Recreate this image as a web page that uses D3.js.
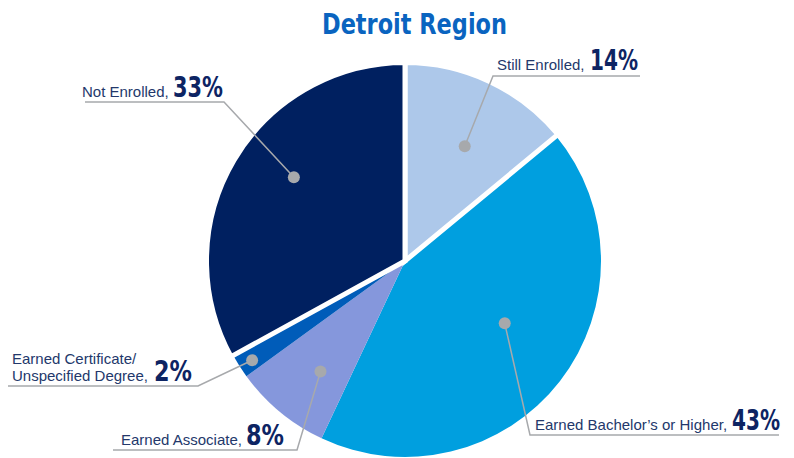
<!DOCTYPE html>
<html>
<head>
<meta charset="utf-8">
<script src="https://cdn.jsdelivr.net/npm/d3@7"></script>
<style>
  body { margin: 0; background: #fff; }
  .lbl { font-family: "Liberation Sans", Arial, sans-serif; font-size: 15px; fill: #23386b; }
  .pct { font-family: "DejaVu Sans Condensed", sans-serif; font-weight: bold; font-size: 28px; fill: #0d2463; }
</style>
</head>
<body>
<div id="chart"></div>
<script>
// data
const categories = ["Still Enrolled", "Earned Bachelor\u2019s or Higher", "Earned Associate", "Earned Certificate/Unspecified Degree", "Not Enrolled"];
const shares = [14, 43, 8, 2, 33];
const colors = ["#adc8ea", "#009fdf", "#8597dc", "#005cb9", "#002060"];

// label layout: dot radius (fraction of r) and angle nudge (deg), text lines, underline
const labelLayout = [
  { f: 0.66, da: 2.3, lines: ["Still Enrolled,"], x: 497, y: 70, pctX: 590, pctW: 48, ux0: 493, ux1: 640, uy: 76, elbowX: 493 },
  { f: 0.60, da: -5.8, lines: ["Earned Bachelor\u2019s or Higher,"], x: 535, y: 430, pctX: 732, pctW: 48, ux0: 530, ux1: 779, uy: 435, elbowX: 530 },
  { f: 0.71, da: -2.2, lines: ["Earned Associate,"], x: 121, y: 445, pctX: 246, pctW: 38, ux0: 113, ux1: 297, uy: 450, elbowX: 297 },
  { f: 0.93, da: -0.6, lines: ["Earned Certificate/", "Unspecified Degree,"], x: 12, y: 364, pctX: 154, pctW: 38, ux0: 8, ux1: 198, uy: 386, elbowX: 198 },
  { f: 0.71, da: 6.4, lines: ["Not Enrolled,"], x: 82, y: 97, pctX: 173, pctW: 50, ux0: 85, ux1: 224, uy: 102, elbowX: 224 }
];
const lineGap = 17;

const width = 794, height = 458;
const cx = 405, cy = 261, radius = 196;

const svg = d3.select("#chart").append("svg")
    .attr("width", width)
    .attr("height", height);

svg.append("text")
    .attr("x", 322)
    .attr("y", 34)
    .attr("textLength", 185)
    .attr("lengthAdjust", "spacingAndGlyphs")
    .style("font-family", "'DejaVu Sans Condensed', sans-serif")
    .style("font-weight", "bold")
    .style("font-size", "28px")
    .attr("fill", "#0a64c0")
    .text("Detroit Region");

const pie = d3.pie().sort(null).value(d => d);
const arcs = pie(shares).map((d, i) => Object.assign(d, { i: i }));

const g = svg.append("g").attr("transform", `translate(${cx},${cy})`);

// slices with white outline drawn last so the gap sits on top
const outlined = i => i === 0 || i === 4;
const arcPlain = d3.arc().innerRadius(0).outerRadius(radius);
const arcOutlined = d3.arc().innerRadius(0).outerRadius(radius + 2.5);

g.selectAll(".slice")
    .data(arcs.filter(d => !outlined(d.i)).concat(arcs.filter(d => outlined(d.i))))
    .join("path")
    .attr("class", "slice")
    .attr("d", d => outlined(d.i) ? arcOutlined(d) : arcPlain(d))
    .attr("fill", d => colors[d.i])
    .attr("stroke", d => outlined(d.i) ? "#fff" : "none")
    .attr("stroke-width", 5)
    .attr("stroke-linejoin", "miter");

// leader lines and dots
arcs.forEach(d => {
  const L = labelLayout[d.i];
  const a = (d.startAngle + d.endAngle) / 2 + L.da * Math.PI / 180;
  const r = radius * L.f;
  const px = cx + r * Math.sin(a), py = cy - r * Math.cos(a);

  svg.append("polyline")
      .attr("points", `${px},${py} ${L.elbowX},${L.uy} ${L.elbowX === L.ux0 ? L.ux1 : L.ux0},${L.uy}`)
      .attr("fill", "none")
      .attr("stroke", "#a7a9ac")
      .attr("stroke-width", 1.5);

  svg.append("circle")
      .attr("cx", px)
      .attr("cy", py)
      .attr("r", 6)
      .attr("fill", "#a7a9ac");

  // one text element per line so lines never share a box
  L.lines.forEach((line, k) => {
    svg.append("text")
        .attr("class", "lbl")
        .attr("x", L.x)
        .attr("y", L.y + k * lineGap)
        .text(line);
  });

  svg.append("text")
      .attr("class", "pct")
      .attr("x", L.pctX)
      .attr("y", L.y + (L.lines.length - 1) * lineGap)
      .attr("textLength", L.pctW)
      .attr("lengthAdjust", "spacingAndGlyphs")
      .text(shares[d.i] + "%");
});
</script>
</body>
</html>
